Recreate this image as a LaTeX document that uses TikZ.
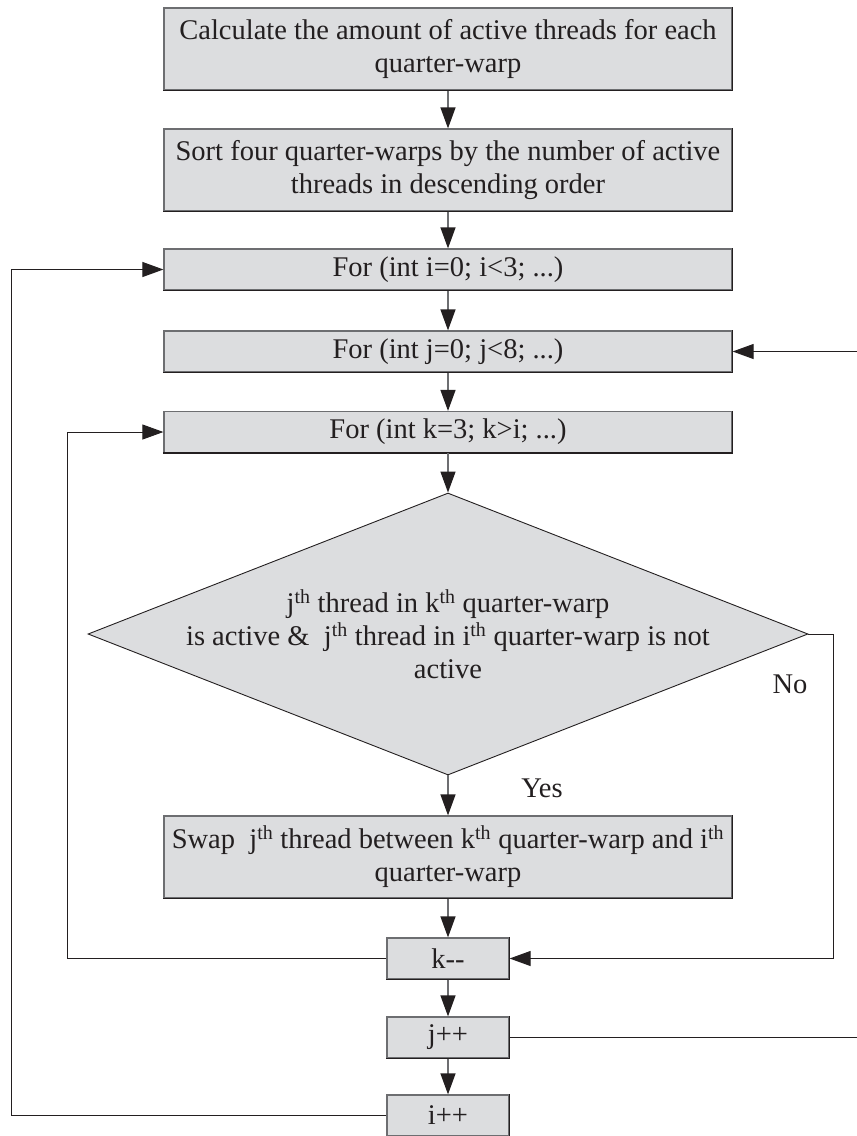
\documentclass[tikz,border=0pt]{standalone}
\usepackage{fontspec}
\setmainfont{Liberation Serif}
\usetikzlibrary{arrows.meta,shapes.geometric}

\definecolor{ink}{HTML}{231F20}
\definecolor{boxfill}{HTML}{DCDDDF}
\definecolor{edge}{HTML}{6D6E71}
\newcommand\flowfont{\fontsize{28.5}{33}\selectfont}

\tikzset{
  proc/.style={rectangle, draw=edge, line width=1.2pt, fill=boxfill,
    minimum width=568pt, minimum height=41pt, inner sep=0pt,
    align=center, font=\flowfont, text=ink},
  tall/.style={proc, minimum height=82pt},
  small/.style={proc, minimum width=122pt},
  decision/.style={diamond, draw=ink, line width=0.9pt, fill=boxfill,
    minimum width=720pt, minimum height=282pt, inner sep=0pt},
  flow/.style={draw=edge, line width=1.3pt,
    -{Triangle[length=21pt, width=15pt, color=ink]}},
  loopline/.style={draw=ink, line width=1pt},
  loop/.style={loopline, -{Triangle[length=21pt, width=15pt, color=ink]}},
  lbl/.style={font=\flowfont, text=ink, inner sep=0pt},
}

\begin{document}
\begin{tikzpicture}[x=1pt, y=-1pt]
  \useasboundingbox (0,0) rectangle (857,1136);

  % process boxes
  \node[tall]  (calc) at (448,49)   {Calculate the amount of active threads for each\\quarter-warp};
  \node[tall]  (sort) at (448,170)  {Sort four quarter-warps by the number of active\\threads in descending order};
  \node[proc]  (fori) at (448,269.5) {For (int i=0; i<3; ...)};
  \node[proc]  (forj) at (448,351.5) {For (int j=0; j<8; ...)};
  \node[proc]  (fork) at (448,432)   {For (int k=3; k>i; ...)};
  \node[decision] (dec) at (448,634) {};
  \node[lbl, align=center] (dectext) at (dec.center)
    {j\textsuperscript{th} thread in k\textsuperscript{th} quarter-warp\\
     is active \&\ \ j\textsuperscript{th} thread in i\textsuperscript{th} quarter-warp is not\\
     active};
  \node[tall]  (swap) at (448,857)  {Swap\ \ j\textsuperscript{th} thread between k\textsuperscript{th} quarter-warp and i\textsuperscript{th}\\quarter-warp};
  \node[small] (km) at (448,958.5)  {k-{}-};
  \node[small] (jp) at (448,1037.5) {j++};
  \node[small] (ip) at (448,1115.5) {i++};

  % darker lower and right edges of the boxes
  \foreach \b in {calc,sort,fori,forj,fork,swap,km,jp,ip}
    \draw[ink, line width=1.3pt] (\b.north east) -- (\b.south east) -- (\b.south west);

  % labels of the decision
  \node[lbl] (no)  at (790,684) {No};
  \node[lbl] (yes) at (542,788) {Yes};

  % guide coordinates for the loops
  \coordinate (outer) at (11,0);
  \coordinate (inner) at (67,0);
  \coordinate (rightx) at (833,0);
  \coordinate (edgex) at (857,0);

  % main flow
  \draw[flow] (calc) -- (sort);
  \draw[flow] (sort) -- (fori);
  \draw[flow] (fori) -- (forj);
  \draw[flow] (forj) -- (fork);
  \draw[flow] (fork) -- (dec);
  \draw[flow] (dec) -- (swap);
  \draw[flow] (swap) -- (km);
  \draw[flow] (km) -- (jp);
  \draw[flow] (jp) -- (ip);

  % loops
  \draw[loop] (dec.east) -- (dec.east -| rightx) |- (km.east);
  \draw[loop] (km.west) -- (km.west -| inner) |- (fork.west);
  \draw[loop] (ip.west) -- (ip.west -| outer) |- (fori.west);
  \draw[loopline] (jp.east) -- (jp.east -| edgex);
  \draw[loop] (forj.east -| edgex) -- (forj.east);
\end{tikzpicture}
\end{document}
